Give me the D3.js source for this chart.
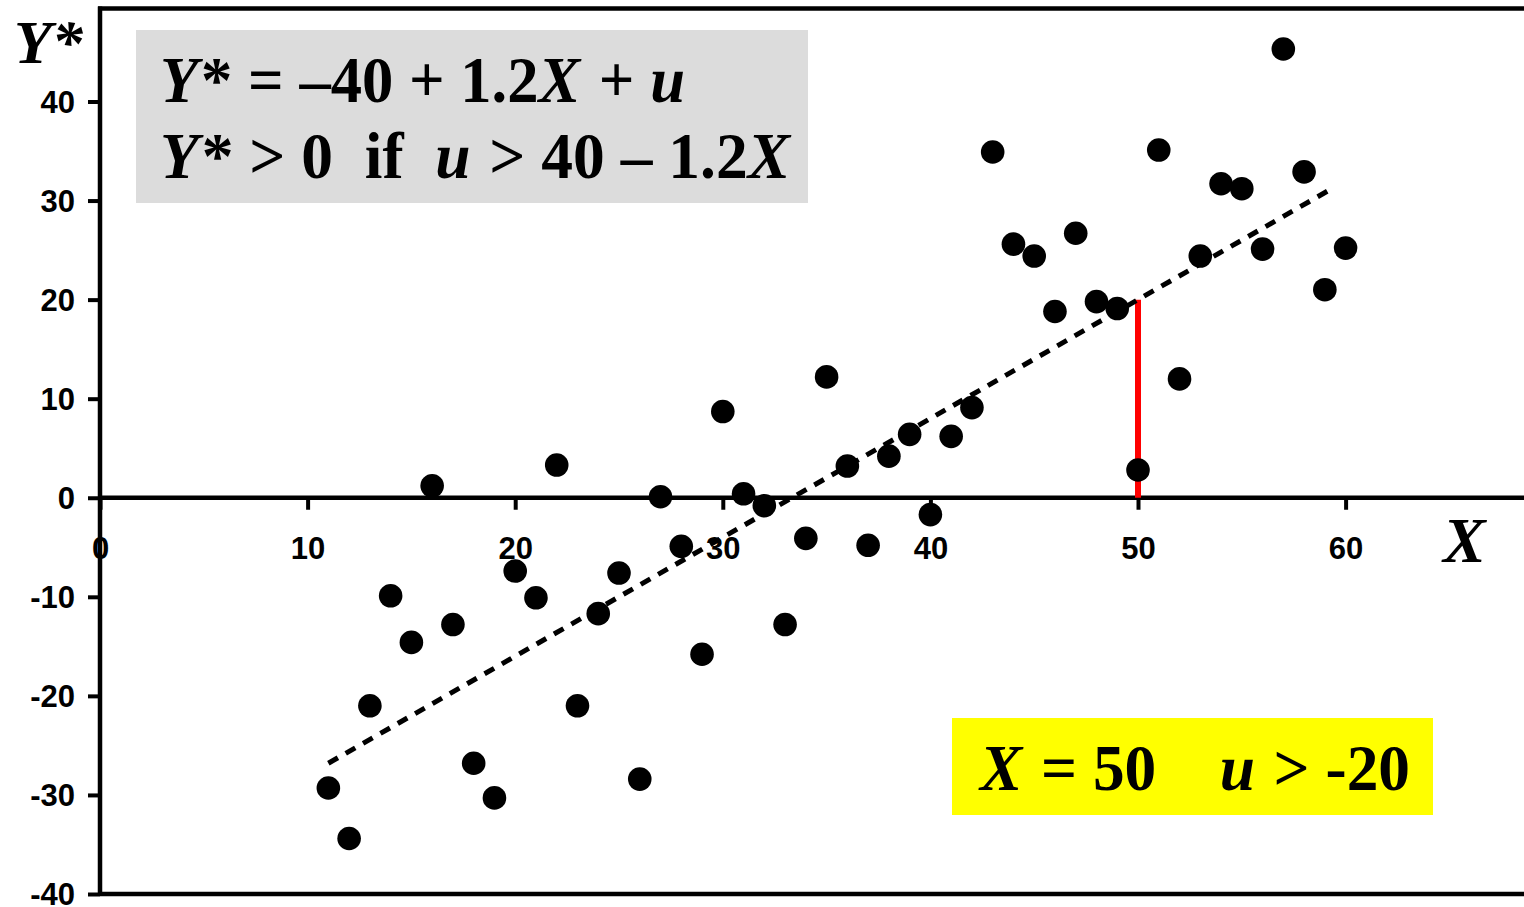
<!DOCTYPE html>
<html>
<head>
<meta charset="utf-8">
<script src="https://cdn.jsdelivr.net/npm/d3@7/dist/d3.min.js"></script>
<style>
  html, body { margin: 0; padding: 0; background: #fff; }
  svg { display: block; }
  .tick text { font-family: "Liberation Sans", Arial, sans-serif; font-weight: bold; font-size: 31px; fill: #000; }
  .math { font-family: "Liberation Serif", "Times New Roman", serif; font-weight: bold; fill: #000; white-space: pre; }
  .it { font-style: italic; }
</style>
</head>
<body>
<svg id="chart" width="1524" height="907"></svg>
<script>
// Observations: X values and latent Y* values
const xValues = [11, 12, 13, 14, 15, 16, 17, 18, 19, 20,
                 21, 22, 23, 24, 25, 26, 27, 28, 29, 30,
                 31, 32, 33, 34, 35, 36, 37, 38, 39, 40,
                 41, 42, 43, 44, 45, 46, 47, 48, 49, 50,
                 51, 52, 53, 54, 55, 56, 57, 58, 59, 60];
const yStarValues = [-29.3, -34.4, -21.0, -9.9, -14.6, 1.2, -12.8, -26.8, -30.3, -7.4,
                     -10.1, 3.3, -21.0, -11.7, -7.6, -28.4, 0.1, -4.9, -15.8, 8.7,
                     0.4, -0.8, -12.8, -4.1, 12.2, 3.2, -4.8, 4.2, 6.4, -1.7,
                     6.2, 9.1, 34.9, 25.6, 24.4, 18.8, 26.7, 19.8, 19.1, 2.8,
                     35.1, 12.0, 24.4, 31.7, 31.2, 25.1, 45.3, 32.9, 21.0, 25.2];

// Systematic component Y* = intercept + slope * X
const intercept = -40;
const slope = 1.2;
const lineRange = [11, 59.2];

// Highlighted observation: X = 50, Y* runs from 0 up to the line
const markX = 50;

const xTicks = [0, 10, 20, 30, 40, 50, 60];
const yTicks = [-40, -30, -20, -10, 0, 10, 20, 30, 40];

const svg = d3.select("#chart");
const W = 1524;

const x = d3.scaleLinear().domain([0, 50]).range([100, 1138]);
const y = d3.scaleLinear().domain([-40, 40]).range([894, 101.5]);
const frameTop = 8.5;
const fmt = d => String(d);   // plain hyphen for negatives

// Frame lines
const frame = svg.append("g").attr("stroke", "#000").attr("stroke-width", 4.5);
frame.append("line").attr("x1", x(0) - 2).attr("x2", W).attr("y1", frameTop).attr("y2", frameTop);
frame.append("line").attr("x1", x(0)).attr("x2", W).attr("y1", y(-40)).attr("y2", y(-40));
frame.append("line").attr("x1", x(0)).attr("x2", x(0)).attr("y1", frameTop - 2).attr("y2", y(-40) + 2);
frame.append("line").attr("x1", x(0)).attr("x2", W).attr("y1", y(0)).attr("y2", y(0));

// Y axis
const yAxis = svg.append("g")
  .attr("transform", `translate(${x(0)},0)`)
  .call(d3.axisLeft(y).tickValues(yTicks).tickSize(12).tickPadding(13).tickFormat(fmt));
yAxis.select(".domain").remove();
yAxis.selectAll(".tick line").attr("stroke", "#000").attr("stroke-width", 4);
yAxis.selectAll(".tick text").attr("dy", "0.34em");

// X axis (crossing at Y* = 0)
const xAxis = svg.append("g")
  .attr("transform", `translate(0,${y(0)})`)
  .call(d3.axisBottom(x).tickValues(xTicks).tickSize(12).tickPadding(27).tickFormat(fmt));
xAxis.select(".domain").remove();
xAxis.selectAll(".tick line").attr("stroke", "#000").attr("stroke-width", 4);

// Red segment at X = 50
svg.append("line")
  .attr("x1", x(markX)).attr("x2", x(markX))
  .attr("y1", y(0)).attr("y2", y(intercept + slope * markX))
  .attr("stroke", "#ff0000").attr("stroke-width", 6);

// Dashed systematic line
svg.append("path")
  .datum(lineRange)
  .attr("d", d3.line().x(d => x(d)).y(d => y(intercept + slope * d)))
  .attr("fill", "none")
  .attr("stroke", "#000")
  .attr("stroke-width", 5)
  .attr("stroke-dasharray", "11,9");

// Observations
svg.append("g")
  .selectAll("circle")
  .data(xValues.map((v, i) => [v, yStarValues[i]]))
  .join("circle")
  .attr("cx", d => x(d[0]))
  .attr("cy", d => y(d[1]))
  .attr("r", 11.8)
  .attr("fill", "#000");

// Axis titles
svg.append("text").attr("class", "math it")
  .attr("x", 14).attr("y", 63).attr("font-size", 62).text("Y*");
svg.append("text").attr("class", "math it")
  .attr("x", 1443).attr("y", 562).attr("font-size", 64).text("X");

// Equation box
svg.append("rect").attr("x", 136).attr("y", 30).attr("width", 672).attr("height", 173).attr("fill", "#dcdcdc");

// Mixed upright/italic formula; a small gap after each italic run
function mathText(parts, xPos, yPos, size, len) {
  const t = svg.append("text").attr("class", "math")
    .attr("x", xPos).attr("y", yPos).attr("font-size", size)
    .attr("textLength", len).attr("lengthAdjust", "spacingAndGlyphs");
  parts.forEach((p, i) => {
    const s = t.append("tspan").attr("class", p[1] ? "it" : null).text(p[0]);
    if (i > 0 && parts[i - 1][1]) s.attr("dx", 3);
  });
  return t;
}

mathText([["Y", true], ["* = \u201340 + 1.2", false], ["X", true], [" + ", false], ["u", true]],
  160, 102, 66, 525);
mathText([["Y", true], ["* > 0  if  ", false], ["u", true], [" > 40 \u2013 1.2", false], ["X", true]],
  160, 178, 66, 630);

// Highlight box
svg.append("rect").attr("x", 952).attr("y", 718).attr("width", 481).attr("height", 97).attr("fill", "#ffff00");
mathText([["X", true], [" = 50    ", false], ["u", true], [" > -20", false]],
  980, 790, 66, 430);
</script>
</body>
</html>
